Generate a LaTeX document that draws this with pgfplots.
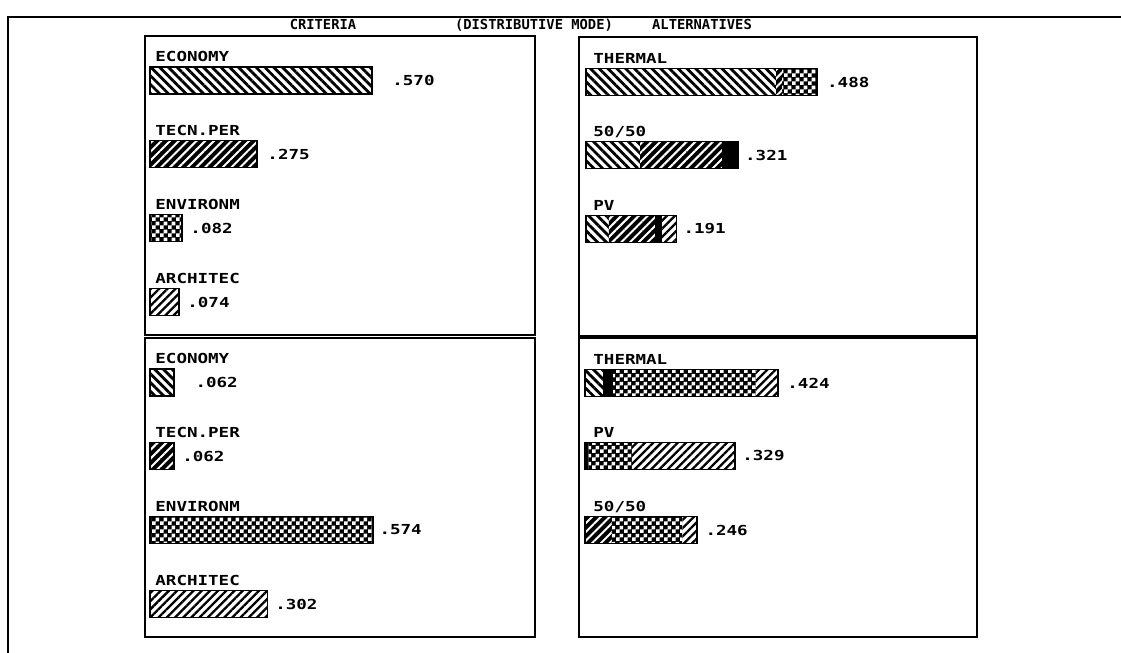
\documentclass[border=0pt]{standalone}
\usepackage{pgfplots}
\pgfplotsset{compat=1.18}
\usetikzlibrary{patterns,patterns.meta}
\usepackage{fontspec}
\newfontfamily\pixf[FakeStretch=1.27]{DejaVu Sans Mono}
\newfontfamily\pixt[FakeStretch=1.0]{DejaVu Sans Mono}
\newcommand\lab{\pixf\bfseries\fontsize{6.9pt}{7pt}\selectfont}
\newcommand\ttl{\pixt\bfseries\fontsize{6.9pt}{7pt}\selectfont}

\pgfdeclarepatternformonly{checker}{\pgfpointorigin}{\pgfqpoint{4pt}{4pt}}{\pgfqpoint{4pt}{4pt}}{%
 \pgfpathrectangle{\pgfqpoint{0pt}{0pt}}{\pgfqpoint{2pt}{2pt}}%
 \pgfpathrectangle{\pgfqpoint{2pt}{2pt}}{\pgfqpoint{2pt}{2pt}}%
 \pgfusepath{fill}}

\pgfplotsset{
 panel/.style={scale only axis, anchor=north west, xtick=\empty, ytick=\empty,
   ymin=0, ymax=299, y dir=reverse, axis line style={line width=0.8pt}, clip=false},
 single/.style={xbar, bar width=13.5pt, bar shift=0pt, draw=black, line width=0.85pt},
 seg/.style={xbar, bar width=13.5pt, bar shift=0pt, draw=none},
 sbar/.style={xbar stacked, bar width=13.5pt, draw=none},
 econ/.style={fill=white, postaction={pattern={Lines[angle=-45,distance=3.1pt,line width=1.4pt]}, pattern color=black}},
 tecn/.style={fill=black, postaction={pattern={Lines[angle=45,distance=3.1pt,line width=1.0pt]}, pattern color=white}},
 env/.style={fill=black, postaction={pattern=checker, pattern color=white}},
 arch/.style={fill=white, postaction={pattern={Lines[angle=45,distance=2.9pt,line width=1.15pt]}, pattern color=black}},
 blk/.style={fill=black},
 vals/.style={only marks, mark=none, nodes near coords, point meta=explicit symbolic,
   nodes near coords style={anchor=west, inner sep=0pt, font=\lab, text=black}},
}
\tikzset{cat/.style={anchor=base west, inner sep=0pt, font=\lab, text=black}}

\begin{document}
\begin{tikzpicture}
\useasboundingbox (0,0) rectangle (560.5pt,-326.5pt);
\draw[line width=1.2pt] (4pt,-330pt) -- (4pt,-8.5pt) -- (565pt,-8.5pt);
\node[font=\ttl, anchor=base] at (161.5pt,-14.8pt) {CRITERIA};
\node[font=\ttl, anchor=base] at (267pt,-14.8pt) {(DISTRIBUTIVE MODE)};
\node[font=\ttl, anchor=base] at (351pt,-14.8pt) {ALTERNATIVES};

% top-left
\begin{axis}[panel, at={(72.5pt,-18pt)}, width=195pt, height=149.5pt, xmin=-0.01285, xmax=0.98972]
\addplot[seg, econ] coordinates {(0.570,44.5)};
\addplot[seg, tecn] coordinates {(0.275,118)};
\addplot[seg, env] coordinates {(0.082,192)};
\addplot[seg, arch] coordinates {(0.074,266)};
\addplot[single, fill=none] coordinates {(0.570,44.5) (0.275,118) (0.082,192) (0.074,266)};
\addplot[vals] coordinates {(0.622,44.5) [.570] (0.301,118) [.275] (0.103,192) [.082] (0.095,266) [.074]};
\node[cat] at (axis cs:0.0129,25.5) {ECONOMY};
\node[cat] at (axis cs:0.0129,99) {TECN.PER};
\node[cat] at (axis cs:0.0129,173) {ENVIRONM};
\node[cat] at (axis cs:0.0129,247) {ARCHITEC};
\end{axis}

% bottom-left
\begin{axis}[panel, at={(72.5pt,-169pt)}, width=195pt, height=149.5pt, xmin=-0.01285, xmax=0.98972]
\addplot[seg, econ] coordinates {(0.062,44.5)};
\addplot[seg, tecn] coordinates {(0.062,118)};
\addplot[seg, env] coordinates {(0.574,192)};
\addplot[seg, arch] coordinates {(0.302,266)};
\addplot[single, fill=none] coordinates {(0.062,44.5) (0.062,118) (0.574,192) (0.302,266)};
\addplot[vals] coordinates {(0.116,44.5) [.062] (0.082,118) [.062] (0.589,192) [.574] (0.321,266) [.302]};
\node[cat] at (axis cs:0.0129,25.5) {ECONOMY};
\node[cat] at (axis cs:0.0129,99) {TECN.PER};
\node[cat] at (axis cs:0.0129,173) {ENVIRONM};
\node[cat] at (axis cs:0.0129,247) {ARCHITEC};
\end{axis}

% top-right
\begin{axis}[panel, at={(289.5pt,-18.5pt)}, width=199pt, height=149.5pt, xmin=-0.01477, xmax=0.82489]
\addplot[sbar, econ] coordinates {(0.401,45) (0.114,118) (0.048,192)};
\addplot[sbar, tecn] coordinates {(0.013,45) (0.173,118) (0.098,192)};
\addplot[sbar, blk] coordinates {(0,45) (0.034,118) (0.014,192)};
\addplot[sbar, env] coordinates {(0.074,45) (0,118) (0,192)};
\addplot[sbar, arch] coordinates {(0,45) (0,118) (0.031,192)};
\addplot[single, fill=none] coordinates {(0.488,45) (0.321,118) (0.191,192)};
\addplot[vals] coordinates {(0.508,45) [.488] (0.335,118) [.321] (0.205,192) [.191]};
\node[cat] at (axis cs:0.0148,26) {THERMAL};
\node[cat] at (axis cs:0.0148,99) {50/50};
\node[cat] at (axis cs:0.0148,173) {PV};
\end{axis}

% bottom-right
\begin{axis}[panel, at={(289.5pt,-169pt)}, width=199pt, height=149.5pt, xmin=-0.01319, xmax=0.86154]
\addplot[sbar, econ] coordinates {(0.040,45) (0,118) (0,192)};
\addplot[sbar, tecn] coordinates {(0,45) (0,118) (0.059,192)};
\addplot[sbar, blk] coordinates {(0.022,45) (0.008,118) (0,192)};
\addplot[sbar, env] coordinates {(0.314,45) (0.095,118) (0.155,192)};
\addplot[sbar, arch] coordinates {(0.048,45) (0.226,118) (0.032,192)};
\addplot[single, fill=none] coordinates {(0.424,45) (0.329,118) (0.246,192)};
\addplot[vals] coordinates {(0.444,45) [.424] (0.345,118) [.329] (0.264,192) [.246]};
\node[cat] at (axis cs:0.0176,26) {THERMAL};
\node[cat] at (axis cs:0.0176,99) {PV};
\node[cat] at (axis cs:0.0176,173) {50/50};
\end{axis}
\end{tikzpicture}
\end{document}
